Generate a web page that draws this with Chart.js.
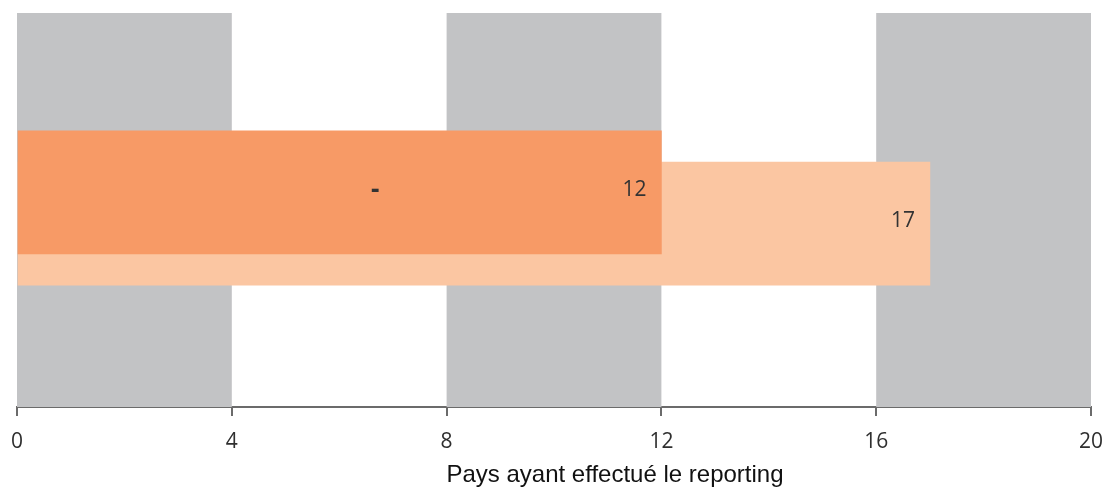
<!DOCTYPE html>
<html>
<head>
<meta charset="utf-8">
<script src="https://cdn.jsdelivr.net/npm/chart.js@4"></script>
<style>
  html, body { margin: 0; padding: 0; background: #fff; }
  #wrap { width: 1107px; height: 489px; }
</style>
</head>
<body>
<div id="wrap"><canvas id="chart"></canvas></div>
<script>
// values
const seriesNames = ['Total', 'Reporting'];
const values = [12, 17];
const valueLabels = ['12', '17'];
const dashLabel = '-';
const dashAt = 6.67;
const xTicks = [0, 4, 8, 12, 16, 20];
const axisTitle = 'Pays ayant effectué le reporting';

// grey bands behind the bars, every other tick interval
const bandsPlugin = {
  id: 'bands',
  beforeDatasetsDraw(chart) {
    const { ctx, chartArea, scales } = chart;
    ctx.save();
    ctx.fillStyle = '#c2c3c5';
    for (let i = 0; i < xTicks.length - 1; i += 2) {
      const x1 = scales.x.getPixelForValue(xTicks[i]);
      const x2 = scales.x.getPixelForValue(xTicks[i + 1]);
      ctx.fillRect(x1, chartArea.top, x2 - x1, chartArea.bottom - chartArea.top);
    }
    ctx.restore();
  }
};

// value labels inside the bar ends, plus the axis title (sits right of centre)
const labelsPlugin = {
  id: 'valueLabels',
  afterDatasetsDraw(chart) {
    const { ctx, scales, chartArea } = chart;
    ctx.save();
    ctx.fillStyle = '#333';
    ctx.font = '21px "Open Sans", sans-serif';
    ctx.textAlign = 'right';
    ctx.textBaseline = 'middle';
    chart.data.datasets.forEach((ds, i) => {
      const bar = chart.getDatasetMeta(i).data[0];
      ctx.fillText(valueLabels[i], bar.x - 15, bar.y - 2 - i);
    });
    const dark = chart.getDatasetMeta(0).data[0];
    ctx.font = 'bold 26px "Open Sans", sans-serif';
    ctx.textAlign = 'center';
    ctx.fillText(dashLabel, scales.x.getPixelForValue(dashAt), dark.y - 2);

    ctx.fillStyle = '#111';
    ctx.font = '24px "Liberation Sans", Arial, sans-serif';
    ctx.textBaseline = 'alphabetic';
    ctx.fillText(axisTitle, (chartArea.left + chartArea.right) / 2 + 61, 482);
    ctx.restore();
  }
};

new Chart(document.getElementById('chart'), {
  type: 'bar',
  data: {
    datasets: [{
      label: seriesNames[0],
      data: [{ x: values[0], y: 0 }],
      backgroundColor: '#f79a66',
      barThickness: 123,
      grouped: false,
      order: 0
    }, {
      label: seriesNames[1],
      data: [{ x: values[1], y: 1 }],
      backgroundColor: '#fbc6a2',
      barThickness: 123,
      grouped: false,
      order: 1
    }]
  },
  options: {
    indexAxis: 'y',
    responsive: true,
    maintainAspectRatio: false,
    animation: false,
    layout: { padding: { top: 13, left: 17, right: 16, bottom: 20 } },
    plugins: { legend: { display: false }, tooltip: { enabled: false } },
    scales: {
      y: {
        type: 'linear', display: false, reverse: true, offset: false,
        min: -5.76, max: 6.89
      },
      x: {
        type: 'linear',
        min: 0,
        max: 20,
        afterBuildTicks: (axis) => { axis.ticks = xTicks.map(v => ({ value: v })); },
        afterFit: (axis) => { axis.paddingLeft = 0; axis.paddingRight = 0; },
        border: { color: '#6b6b6b', width: 2 },
        grid: { drawOnChartArea: false, color: '#6b6b6b', lineWidth: 2, tickLength: 9 },
        ticks: { color: '#2f2f2f', font: { family: '"Open Sans", sans-serif', size: 21, lineHeight: 1 }, padding: 16 }
      }
    }
  },
  plugins: [bandsPlugin, labelsPlugin]
});
</script>
</body>
</html>
